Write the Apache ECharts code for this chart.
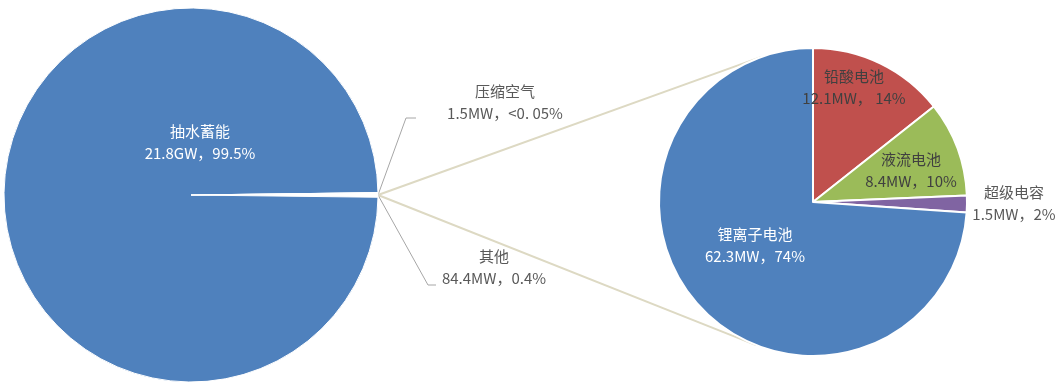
<!DOCTYPE html>
<html>
<head>
<meta charset="utf-8">
<script src="https://cdn.jsdelivr.net/npm/echarts@6/dist/echarts.min.js"></script>
<style>
  html, body { margin: 0; padding: 0; background: #fff; }
  #main { width: 1062px; height: 387px; }
</style>
</head>
<body>
<div id="main"></div>
<script>
// left pie (MW)
const mainNames = ['其他', '抽水蓄能', '压缩空气'];
const mainValues = [84.4, 21800, 1.5];
const mainTexts = ['84.4MW，0.4%', '21.8GW，99.5%', '1.5MW，<0. 05%'];
// right pie, breakdown of 其他 (MW)
const subNames = ['铅酸电池', '液流电池', '超级电容', '锂离子电池'];
const subValues = [12.1, 8.4, 1.5, 62.3];
const subTexts = ['12.1MW， 14%', '8.4MW，10%', '1.5MW，2%', '62.3MW，74%'];

let chart = echarts.init(document.getElementById('main'));

let c1 = [191, 195], r1 = 187;
let c2 = [813, 202], r2 = 154;

// 其他 is drawn as a thin white wedge, like the split line in the original
let mainColors = ['#ffffff', '#4f81bd', '#4f81bd'];
let mainLabelColors = ['#595959', '#ffffff', '#595959'];
let mainLabelPos = [[494, 267], [200, 142], [505, 102]];
let subColors = ['#c0504d', '#9bbb59', '#8064a2', '#4f81bd'];
let subLabelColors = ['#404040', '#404040', '#595959', '#ffffff'];
let subLabelPos = [[854, 87], [911, 170], [1014, 203], [755, 245]];

// keep 其他 centred on the right (3 o'clock)
let total = mainValues.reduce((a, b) => a + b, 0);
let startAngle = mainValues[0] / total * 360 / 2;

// connector lines: tangents from the left pie's east point to the right pie
let P = [c1[0] + r1, c1[1]];
let d = Math.hypot(P[0] - c2[0], P[1] - c2[1]);
let base = Math.atan2(P[1] - c2[1], P[0] - c2[0]);
let th = Math.acos(r2 / d);
let t1 = [c2[0] + r2 * Math.cos(base + th), c2[1] + r2 * Math.sin(base + th)];
let t2 = [c2[0] + r2 * Math.cos(base - th), c2[1] + r2 * Math.sin(base - th)];

let font = { fontFamily: 'Noto Sans CJK SC', fontSize: 15, lineHeight: 22 };

chart.setOption({
  animation: false,
  graphic: [
    { type: 'line', z: 0, shape: { x1: P[0], y1: P[1], x2: t1[0], y2: t1[1] }, style: { stroke: '#ddd9c3', lineWidth: 2 } },
    { type: 'line', z: 0, shape: { x1: P[0], y1: P[1], x2: t2[0], y2: t2[1] }, style: { stroke: '#ddd9c3', lineWidth: 2 } },
    { type: 'polyline', z: 0, shape: { points: [P, [P[0] + 28, 118], [P[0] + 38, 118]] }, style: { stroke: '#a6a6a6', lineWidth: 1, fill: null } },
    { type: 'polyline', z: 0, shape: { points: [P, [P[0] + 50, 285], [P[0] + 58, 285]] }, style: { stroke: '#a6a6a6', lineWidth: 1, fill: null } }
  ],
  series: [
    {
      type: 'pie',
      center: c1,
      radius: r1,
      startAngle: startAngle,
      clockwise: true,
      z: 2,
      silent: true,
      itemStyle: { borderColor: '#ffffff', borderWidth: 1 },
      label: Object.assign({
        show: true,
        position: 'inside',
        formatter: function (p) { return p.name + '\n' + mainTexts[p.dataIndex]; }
      }, font),
      labelLine: { show: false },
      labelLayout: function (p) {
        let pos = mainLabelPos[p.dataIndex];
        return { x: pos[0], y: pos[1], align: 'center', verticalAlign: 'middle' };
      },
      data: mainNames.map(function (n, i) {
        return { name: n, value: mainValues[i], itemStyle: { color: mainColors[i] }, label: { color: mainLabelColors[i] } };
      })
    },
    {
      type: 'pie',
      center: c2,
      radius: r2,
      startAngle: 90,
      clockwise: true,
      z: 2,
      silent: true,
      itemStyle: { borderColor: '#ffffff', borderWidth: 2 },
      label: Object.assign({
        show: true,
        position: 'inside',
        formatter: function (p) { return p.name + '\n' + subTexts[p.dataIndex]; }
      }, font),
      labelLine: { show: false },
      labelLayout: function (p) {
        let pos = subLabelPos[p.dataIndex];
        return { x: pos[0], y: pos[1], align: 'center', verticalAlign: 'middle' };
      },
      data: subNames.map(function (n, i) {
        return { name: n, value: subValues[i], itemStyle: { color: subColors[i] }, label: { color: subLabelColors[i] } };
      })
    }
  ]
});
</script>
</body>
</html>
